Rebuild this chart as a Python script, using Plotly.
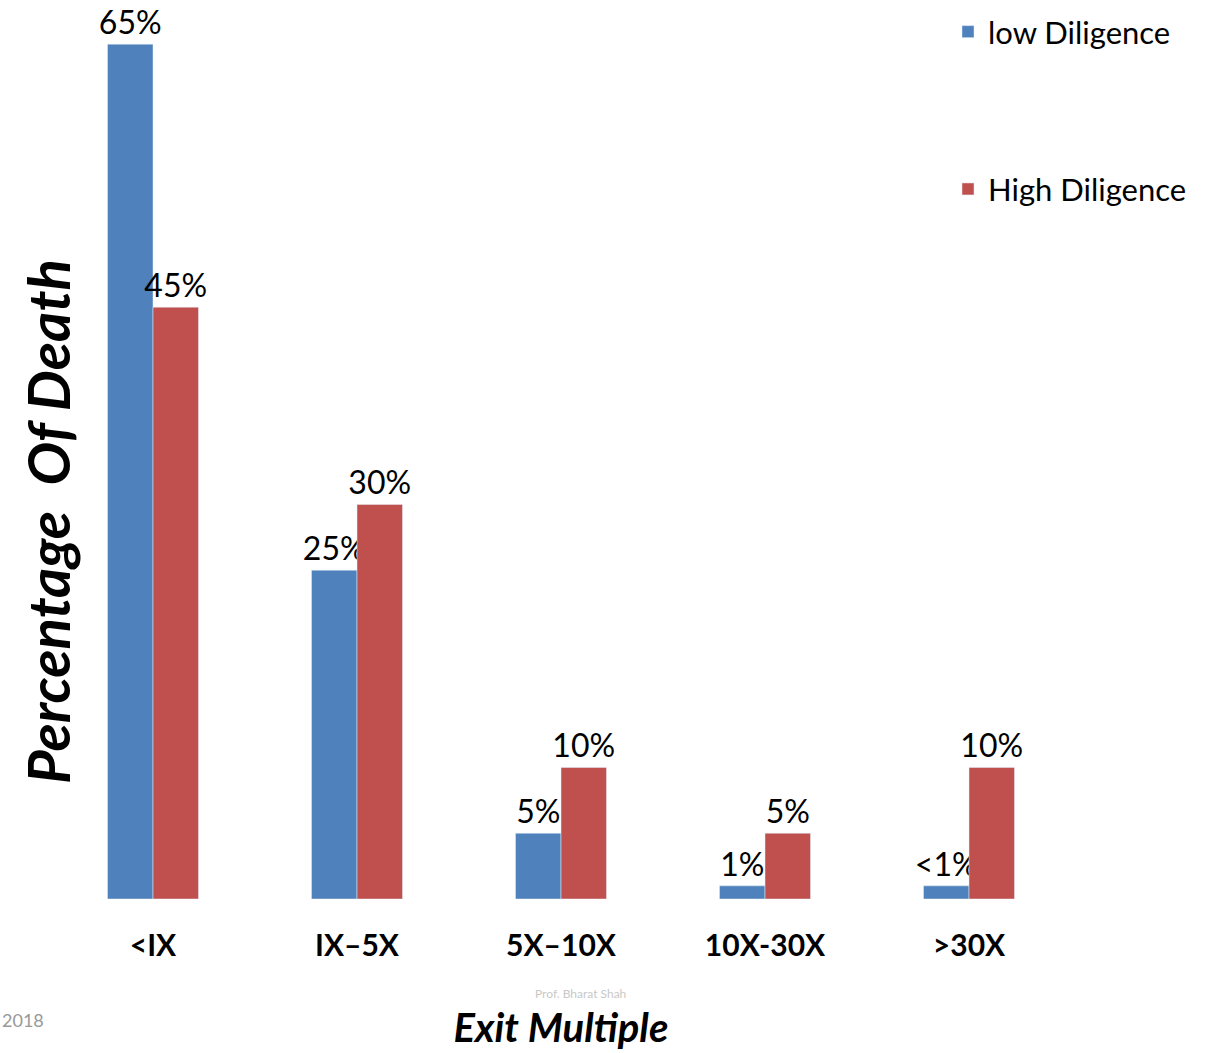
import plotly.graph_objects as go

categories = ["<IX", "IX\u20135X", "5X\u201310X", "10X-30X", ">30X"]
low_values = [65, 25, 5, 1, 1]
low_labels = ["65%", "25%", "5%", "1%", "<1%"]
high_values = [45, 30, 10, 5, 10]
high_labels = ["45%", "30%", "10%", "5%", "10%"]

FONT = "Lato, Calibri, sans-serif"
BLUE = "#4F81BD"
RED = "#C0504D"

fig = go.Figure()
fig.add_trace(go.Bar(
    x=categories, y=low_values, name="low Diligence", marker_color=BLUE,
    text=low_labels, textposition="outside", constraintext="none", cliponaxis=False,
    textfont=dict(family=FONT, size=32, color="black"), legendgroup="a",
))
fig.add_trace(go.Bar(
    x=categories, y=high_values, name="High Diligence", marker_color=RED,
    text=high_labels, textposition="outside", constraintext="none", cliponaxis=False,
    textfont=dict(family=FONT, size=32, color="black"), legendgroup="b",
))

L, R, T, B = 51, 136, 31, 154
W, H = 1207, 1053
pw = W - L - R
ph = H - T - B

fig.update_layout(
    width=W, height=H,
    margin=dict(l=L, r=R, t=T, b=B, autoexpand=False),
    paper_bgcolor="white", plot_bgcolor="white",
    barmode="group", bargap=0.554, bargroupgap=0,
    font=dict(family=FONT, color="black"),
    showlegend=True,
    legend=dict(
        x=(948 - L) / pw, y=(899 - 5) / ph, xanchor="left", yanchor="top",
        font=dict(family=FONT, size=31, color="black"),
        traceorder="grouped", tracegroupgap=114,
        bgcolor="rgba(0,0,0,0)",
    ),
    xaxis=dict(
        showgrid=False, showline=False, zeroline=False, ticks="",
        tickfont=dict(family=FONT, size=30, color="black", weight="bold"),
        ticklabelstandoff=26, automargin=False,
        title=dict(text="<b><i>Exit Multiple</i></b>", font=dict(family=FONT, size=40, color="black"), standoff=52),
    ),
    yaxis=dict(
        range=[0, 66], showgrid=False, showline=False, zeroline=False,
        showticklabels=False, ticks="", automargin=False,
    ),
)

fig.add_annotation(
    text="<b><i>Percentage  Of Death</i></b>", textangle=-90,
    xref="paper", yref="paper", x=(47 - L) / pw, y=(899 - 522) / ph,
    xanchor="center", yanchor="middle", showarrow=False,
    font=dict(family=FONT, size=58, color="black"),
)
fig.add_annotation(
    text="2018", xref="paper", yref="paper", x=(0 - L) / pw, y=(899 - 1020) / ph,
    xanchor="left", yanchor="middle", showarrow=False,
    font=dict(family=FONT, size=18, color="#999999"),
)
fig.add_annotation(
    text="Prof. Bharat Shah", xref="paper", yref="paper", x=(580 - L) / pw, y=(899 - 993) / ph,
    xanchor="center", yanchor="middle", showarrow=False,
    font=dict(family=FONT, size=12, color="#c8c8c8"),
)

fig.write_html("out.html")
